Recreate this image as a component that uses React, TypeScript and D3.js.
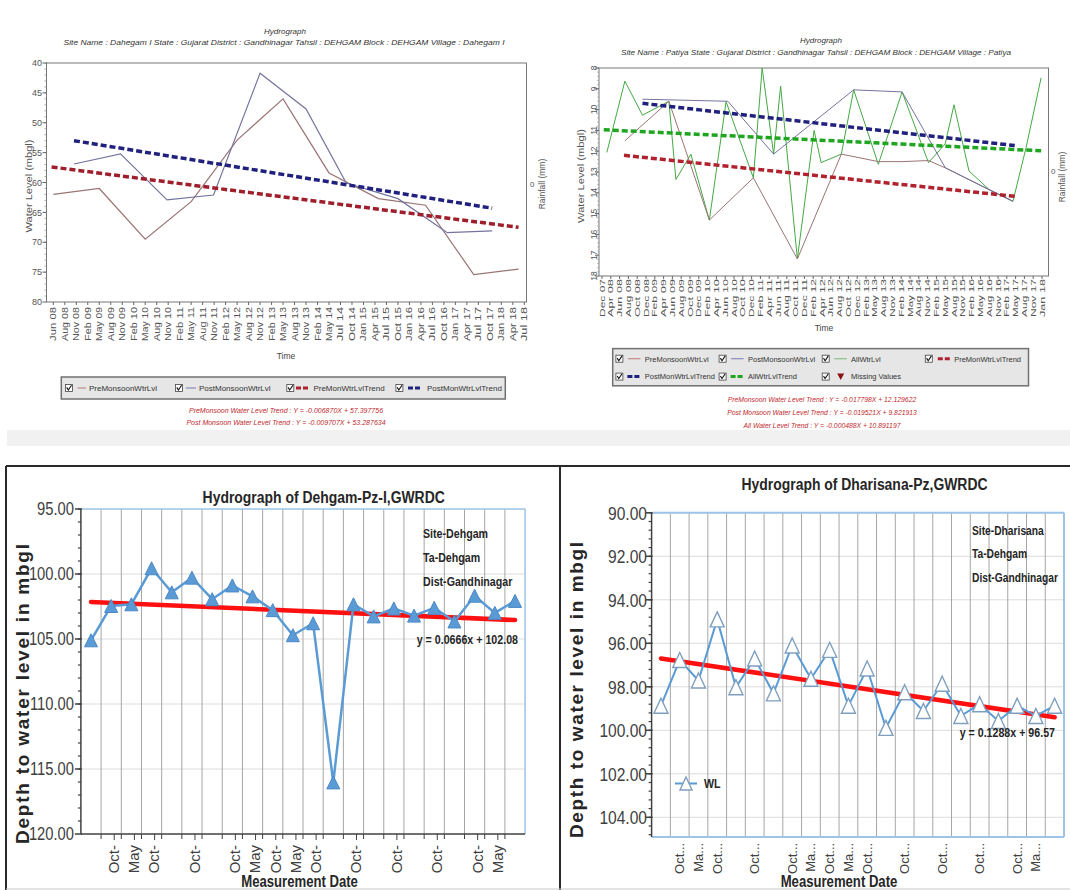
import React from "react";
import * as d3 from "d3";

const SANS = "'Liberation Sans',Arial,sans-serif";

// ===== Top-left hydrograph : Dahegam I =====
const tlTimeLabels = ["Jun 08","Aug 08","Nov 08","Feb 09","May 09","Aug 09","Nov 09","Feb 10","May 10","Aug 10","Nov 10","Feb 11","May 11","Aug 11","Nov 11","Feb 12","May 12","Aug 12","Nov 12","Feb 13","May 13","Aug 13","Nov 13","Feb 14","May 14","Jul 14","Oct 14","Jan 15","Apr 15","Jul 15","Oct 15","Jan 16","Apr 16","Jul 16","Oct 16","Jan 17","Apr 17","Jul 17","Oct 17","Jan 18","Apr 18","Jul 18"];
const tlPreIdx = [0, 4, 8, 12, 16, 20, 24, 28.3, 32.4, 36.6, 40.5];
const tlPreLevel = [62.0, 61.0, 69.5, 63.2, 52.9, 46.0, 58.4, 62.7, 63.8, 75.4, 74.5];
const tlPostIdx = [1.8, 5.85, 9.9, 13.95, 18, 22, 25.5, 30, 34.3, 38.2];
const tlPostLevel = [56.9, 55.2, 62.9, 62.1, 41.7, 47.7, 60.1, 62.7, 68.4, 68.1];
const tlPreTrendIdx = [-0.15, 40.5];
const tlPreTrendLevel = [57.4, 67.5];
const tlPostTrendIdx = [1.8, 38.2];
const tlPostTrendLevel = [53.0, 64.3];
const tlYTicks = [40, 45, 50, 55, 60, 65, 70, 75, 80];
const tlLegend = ["PreMonsoonWtrLvl", "PostMonsoonWtrLvl", "PreMonWtrLvlTrend", "PostMonWtrLvlTrend"];
const tlTrendText = [
  "PreMonsoon Water Level Trend : Y = -0.006870X + 57.397756",
  "Post Monsoon Water Level Trend : Y = -0.009707X + 53.287634",
];

// ===== Top-right hydrograph : Patiya =====
const trTimeLabels = ["Dec 07","Apr 08","Jun 08","Aug 08","Oct 08","Dec 08","Feb 09","Apr 09","Jun 09","Aug 09","Oct 09","Dec 09","Feb 10","Apr 10","Jun 10","Aug 10","Oct 10","Dec 10","Feb 11","Apr 11","Jun 11","Aug 11","Oct 11","Dec 11","Feb 12","Apr 12","Jun 12","Aug 12","Oct 12","Dec 12","Feb 13","May 13","Aug 13","Nov 13","Feb 14","May 14","Aug 14","Nov 14","Feb 15","May 15","Aug 15","Nov 15","Feb 16","May 16","Aug 16","Nov 16","Feb 17","May 17","Aug 17","Nov 17","Jan 18"];
const trAllIdx = [0.55, 2.6, 4.6, 7.6, 8.4, 10.1, 12.2, 14.1, 17.2, 18.2, 19.5, 20.3, 22.2, 24.1, 24.9, 27.2, 28.6, 31.4, 34.1, 37.1, 39.0, 40.0, 41.7, 44.0, 46.7, 48.2, 49.9];
const trAllLevel = [12.06, 8.63, 10.27, 9.6, 13.36, 12.14, 15.31, 9.62, 13.28, 8.0, 12.14, 8.87, 17.18, 11.0, 12.55, 12.14, 9.05, 12.63, 9.15, 12.55, 11.65, 9.77, 12.95, 13.85, 14.41, 11.81, 8.47];
const trPreIdx = [2.6, 7.6, 12.2, 17.2, 22.2, 27.2, 31.4, 34.1, 37.1, 39.0, 44.0, 46.7];
const trPreLevel = [11.5, 9.6, 15.31, 13.28, 17.18, 12.14, 12.5, 12.5, 12.45, 12.8, 13.85, 14.41];
const trPostIdx = [4.6, 14.3, 19.5, 28.6, 34.1, 39.0, 44.0, 46.7];
const trPostLevel = [9.5, 9.6, 12.14, 9.05, 9.15, 12.79, 13.85, 14.41];
const trPreTrendIdx = [2.5, 46.9];
const trPreTrendLevel = [12.2, 14.17];
const trPostTrendIdx = [4.6, 46.9];
const trPostTrendLevel = [9.7, 11.73];
const trAllTrendIdx = [0.2, 49.9];
const trAllTrendLevel = [10.97, 11.98];
const trYTicks = [8, 9, 10, 11, 12, 13, 14, 15, 16, 17, 18];
const trLegendRow1 = ["PreMonsoonWtrLvl", "PostMonsoonWtrLvl", "AllWtrLvl", "PreMonWtrLvlTrend"];
const trLegendRow2 = ["PostMonWtrLvlTrend", "AllWtrLvlTrend", "Missing Values"];
const trTrendText = [
  "PreMonsoon Water Level Trend : Y = -0.017798X + 12.129622",
  "Post Monsoon Water Level Trend : Y = -0.019521X + 9.821913",
  "All Water Level Trend : Y = -0.000488X + 10.891197",
];

// ===== Bottom-left : Dehgam-Pz-I =====
const blDepth = [105.10, 102.46, 102.33, 99.56, 101.41, 100.28, 101.94, 100.88, 101.72, 102.78, 104.71, 103.79, 116.03, 102.33, 103.26, 102.65, 103.20, 102.60, 103.65, 101.67, 102.99, 102.07];
const blDateLabels = ["", "Oct-", "May", "Oct-", "", "Oct-", "", "Oct-", "May", "Oct-", "May", "Oct-", "", "Oct-", "", "Oct-", "", "Oct-", "", "Oct-", "May", ""];
const blYTicks = [95, 100, 105, 110, 115, 120];
const blSlope = 0.0666;
const blIntercept = 102.08;
const blSite = ["Site-Dehgam", "Ta-Dehgam", "Dist-Gandhinagar"];

// ===== Bottom-right : Dharisana-Pz =====
const brDepth = [98.87, 96.77, 97.71, 94.90, 98.02, 96.70, 98.30, 96.10, 97.63, 96.30, 98.87, 97.16, 99.89, 98.25, 99.11, 97.86, 99.34, 98.80, 99.57, 98.87, 99.34, 98.87];
const brDateLabels = ["", "Oct...", "Ma...", "Oct...", "", "Oct...", "", "Oct...", "Ma...", "Oct...", "Ma...", "Oct...", "", "Oct...", "", "Oct...", "", "Oct...", "", "Oct...", "Ma...", ""];
const brYTicks = [90, 92, 94, 96, 98, 100, 102, 104];
const brSlope = 0.1288;
const brIntercept = 96.57;
const brSite = ["Site-Dharisana", "Ta-Dehgam", "Dist-Gandhinagar"];

function pathOf(xs: number[], ys: number[], sx: (v: number) => number, sy: (v: number) => number) {
  const pts: [number, number][] = xs.map((v, i) => [sx(v), sy(ys[i])]);
  return d3.line()(pts) || "";
}

// condensed text (Arial-Narrow look) by horizontal scaling of Liberation Sans
function NText(props: { x: number; y: number; size: number; bold?: boolean; anchor?: string; fill?: string; dy?: string; sx?: number; children: React.ReactNode }) {
  const { x, y, size, bold, anchor, fill, dy, sx, children } = props;
  return (
    <text transform={`translate(${x},${y}) scale(${sx ?? 0.82},1)`} dy={dy} fontSize={size} fontWeight={bold ? "bold" : "normal"} fontFamily={SANS} textAnchor={anchor ?? "start"} fill={fill ?? "#262626"}>
      {children}
    </text>
  );
}

function Check({ x, y }: { x: number; y: number }) {
  return (
    <g transform={`translate(${x},${y})`}>
      <rect x={-3.5} y={-3.5} width={7} height={7} fill="#fff" stroke="#444" strokeWidth={0.8} />
      <path d="M-2.2,-0.6 L-0.6,2 L2.6,-2.8" fill="none" stroke="#111" strokeWidth={1.1} />
    </g>
  );
}

function TopLeft() {
  const X0 = 46.5, X1 = 526.5, Y0 = 63, Y1 = 302;
  const x = d3.scaleLinear().domain([0, tlTimeLabels.length - 1]).range([53.3, 524.3]);
  const y = d3.scaleLinear().domain([40, 80]).range([Y0, Y1]);
  const minor = d3.range(40, 80, 1);
  return (
    <g fontFamily={SANS}>
      <text x={285} y={34} fontSize={8} fontStyle="italic" textAnchor="middle" fill="#333">Hydrograph</text>
      <text x={284} y={45} fontSize={8} fontStyle="italic" textAnchor="middle" fill="#333" textLength={441} lengthAdjust="spacingAndGlyphs">
        Site Name : Dahegam I  State : Gujarat District : Gandhinagar  Tahsil : DEHGAM  Block : DEHGAM Village : Dahegam I
      </text>
      <rect x={X0} y={Y0} width={X1 - X0} height={Y1 - Y0} fill="#fff" stroke="#777" strokeWidth={1} />
      {minor.map((v) => (
        <line key={"m" + v} x1={X0 - 2} x2={X0} y1={y(v)} y2={y(v)} stroke="#888" strokeWidth={0.7} />
      ))}
      {tlYTicks.map((v) => (
        <g key={v}>
          <line x1={X0 - 4} x2={X0} y1={y(v)} y2={y(v)} stroke="#666" />
          <text x={42} y={y(v)} dy="0.35em" fontSize={9} textAnchor="end" fill="#555">{v}</text>
        </g>
      ))}
      {tlTimeLabels.map((lab, i) => (
        <g key={lab + i}>
          <line x1={x(i)} x2={x(i)} y1={Y1} y2={Y1 + 3} stroke="#666" />
          <text transform={`translate(${x(i)},${Y1 + 5}) rotate(-90)`} fontSize={8.5} textAnchor="end" dominantBaseline="central" fill="#555" textLength={34} lengthAdjust="spacingAndGlyphs">{lab}</text>
        </g>
      ))}
      <path d={pathOf(tlPreIdx, tlPreLevel, x, y)} fill="none" stroke="#9a7474" strokeWidth={1.2} />
      <path d={pathOf(tlPostIdx, tlPostLevel, x, y)} fill="none" stroke="#74749e" strokeWidth={1.2} />
      <path d={pathOf(tlPreTrendIdx, tlPreTrendLevel, x, y)} fill="none" stroke="#9e1f2b" strokeWidth={3.5} strokeDasharray="6 3" />
      <path d={pathOf(tlPostTrendIdx, tlPostTrendLevel, x, y)} fill="none" stroke="#20207e" strokeWidth={3.5} strokeDasharray="6 3" />
      <text transform={`translate(32,186) rotate(-90)`} fontSize={9} textAnchor="middle" fill="#555" textLength={93} lengthAdjust="spacingAndGlyphs">Water Level (mbgl)</text>
      <text x={530} y={187} fontSize={8} fill="#555">0</text>
      <text transform={`translate(545,184) rotate(-90)`} fontSize={8.5} textAnchor="middle" fill="#555">Rainfall (mm)</text>
      <text x={286} y={359} fontSize={8.5} textAnchor="middle" fill="#444">Time</text>
      <rect x={61.3} y={377} width={444} height={22} fill="#e6e6e6" stroke="#707070" strokeWidth={1.5} />
      <g>
        <Check x={68.9} y={388} />
        <line x1={77.5} x2={86} y1={388} y2={388} stroke="#c08a8a" strokeWidth={1.2} />
        <text x={89} y={391} fontSize={8} fill="#333">{tlLegend[0]}</text>
        <Check x={179} y={388} />
        <line x1={186} x2={196} y1={388} y2={388} stroke="#8a8ac0" strokeWidth={1.2} />
        <text x={199} y={391} fontSize={8} fill="#333">{tlLegend[1]}</text>
        <Check x={290.3} y={388} />
        <line x1={296} x2={310} y1={388} y2={388} stroke="#b0202c" strokeWidth={3} strokeDasharray="5 2" />
        <text x={313.4} y={391} fontSize={8} fill="#333">{tlLegend[2]}</text>
        <Check x={399.4} y={388} />
        <line x1={408} x2={422} y1={388} y2={388} stroke="#20207e" strokeWidth={3} strokeDasharray="5 2" />
        <text x={427} y={391} fontSize={8} fill="#333">{tlLegend[3]}</text>
      </g>
      {tlTrendText.map((t, i) => (
        <text key={t} x={286} y={413 + i * 12} fontSize={7} fontStyle="italic" textAnchor="middle" fill="#c0282d">{t}</text>
      ))}
    </g>
  );
}

function TopRight() {
  const X0 = 599, X1 = 1048.5, Y0 = 68, Y1 = 276;
  const x = d3.scaleLinear().domain([0, trTimeLabels.length - 1]).range([602, 1042]);
  const y = d3.scaleLinear().domain([8, 18]).range([Y0, Y1]);
  const minor = d3.range(8, 18, 0.2);
  const xs1 = [619.4, 722.6, 825.7, 928.8];
  return (
    <g fontFamily={SANS}>
      <text x={821} y={42.5} fontSize={8} fontStyle="italic" textAnchor="middle" fill="#333">Hydrograph</text>
      <text x={816} y={55} fontSize={8} fontStyle="italic" textAnchor="middle" fill="#333" textLength={390} lengthAdjust="spacingAndGlyphs">
        Site Name : Patiya  State : Gujarat District : Gandhinagar  Tahsil : DEHGAM  Block : DEHGAM Village : Patiya
      </text>
      <rect x={X0} y={Y0} width={X1 - X0} height={Y1 - Y0} fill="#fff" stroke="#777" strokeWidth={1} />
      {minor.map((v, i) => (
        <line key={"m" + i} x1={X0 - 2} x2={X0} y1={y(v)} y2={y(v)} stroke="#999" strokeWidth={0.6} />
      ))}
      {trYTicks.map((v) => (
        <g key={v}>
          <line x1={X0 - 4} x2={X0} y1={y(v)} y2={y(v)} stroke="#666" />
          <text transform={`translate(597,${y(v)}) rotate(-90)`} fontSize={8.5} textAnchor="middle" fill="#555">{v}</text>
        </g>
      ))}
      {trTimeLabels.map((lab, i) => (
        <g key={lab + i}>
          <line x1={x(i)} x2={x(i)} y1={Y1} y2={Y1 + 3} stroke="#666" />
          <text transform={`translate(${x(i)},${Y1 + 3}) rotate(-90)`} fontSize={7.5} textAnchor="end" dominantBaseline="central" fill="#555" textLength={38} lengthAdjust="spacingAndGlyphs">{lab}</text>
        </g>
      ))}
      <path d={pathOf(trAllIdx, trAllLevel, x, y)} fill="none" stroke="#45a845" strokeWidth={1} />
      <path d={pathOf(trPreIdx, trPreLevel, x, y)} fill="none" stroke="#9a7474" strokeWidth={1} />
      <path d={pathOf(trPostIdx, trPostLevel, x, y)} fill="none" stroke="#74749e" strokeWidth={1} />
      <path d={pathOf(trPreTrendIdx, trPreTrendLevel, x, y)} fill="none" stroke="#b0222e" strokeWidth={3.5} strokeDasharray="6 3" />
      <path d={pathOf(trPostTrendIdx, trPostTrendLevel, x, y)} fill="none" stroke="#20207e" strokeWidth={3.5} strokeDasharray="6 3" />
      <path d={pathOf(trAllTrendIdx, trAllTrendLevel, x, y)} fill="none" stroke="#1fa51f" strokeWidth={3.5} strokeDasharray="6 3" />
      <text transform={`translate(584,176) rotate(-90)`} fontSize={9} textAnchor="middle" fill="#555" textLength={94} lengthAdjust="spacingAndGlyphs">Water Level (mbgl)</text>
      <text x={1051} y={174} fontSize={8} fill="#555">0</text>
      <text transform={`translate(1065,177) rotate(-90)`} fontSize={8.5} textAnchor="middle" fill="#555">Rainfall (mm)</text>
      <text x={824} y={331} fontSize={8.5} textAnchor="middle" fill="#444">Time</text>
      <rect x={612.7} y={348.6} width={415.8} height={37.2} fill="#e6e6e6" stroke="#707070" strokeWidth={1.5} />
      {trLegendRow1.map((t, i) => (
        <g key={t}>
          <Check x={xs1[i]} y={358.7} />
          {i < 3 ? (
            <line x1={xs1[i] + 8.5} x2={xs1[i] + 21} y1={358.7} y2={358.7} stroke={["#c08a8a", "#8a8ac0", "#8ac08a"][i]} strokeWidth={1.2} />
          ) : (
            <line x1={xs1[i] + 9} x2={xs1[i] + 22} y1={358.7} y2={358.7} stroke="#b0202c" strokeWidth={3} strokeDasharray="5 2" />
          )}
          <text x={xs1[i] + 25.4} y={361.5} fontSize={7.5} fill="#333">{t}</text>
        </g>
      ))}
      {trLegendRow2.map((t, i) => (
        <g key={t}>
          <Check x={xs1[i]} y={376.6} />
          {i < 2 ? (
            <line x1={xs1[i] + 8} x2={xs1[i] + 21.5} y1={376.6} y2={376.6} stroke={["#20207e", "#1fa51f"][i]} strokeWidth={3} strokeDasharray="5 2" />
          ) : (
            <path d={`M${xs1[i] + 11.5},373.6 L${xs1[i] + 18.5},373.6 L${xs1[i] + 15},380 Z`} fill="#8b1010" />
          )}
          <text x={xs1[i] + 25.4} y={379.4} fontSize={7.5} fill="#333">{t}</text>
        </g>
      ))}
      {trTrendText.map((t, i) => (
        <text key={t} x={822} y={401.5 + i * 13} fontSize={6.8} fontStyle="italic" textAnchor="middle" fill="#c0282d">{t}</text>
      ))}
    </g>
  );
}

function triPath(w: number, h: number) {
  return `M0,${-h / 2} L${w / 2},${h / 2} L${-w / 2},${h / 2} Z`;
}

function BottomLeft() {
  const X0 = 80.9, X1 = 525.1, Y0 = 509, Y1 = 834;
  const y = d3.scaleLinear().domain([95, 120]).range([Y0, Y1]);
  const xb = d3.scaleBand<number>().domain(blDepth.map((_, i) => i)).range([X0, X1]);
  const bw = xb.bandwidth();
  const cx = (i: number) => (xb(i) as number) + bw / 2;
  const minor = d3.range(95, 120, 1);
  const linePts = blDepth.map((v, i) => [cx(i), y(v)] as [number, number]);
  const tr0 = blSlope * 1 + blIntercept;
  const tr1 = blSlope * blDepth.length + blIntercept;
  return (
    <g>
      <NText x={323.7} y={503} size={17} bold anchor="middle">Hydrograph of Dehgam-Pz-I,GWRDC</NText>
      {blYTicks.slice(1, -1).map((v) => (
        <line key={"g" + v} x1={X0} x2={X1} y1={y(v)} y2={y(v)} stroke="#dcdcdc" strokeWidth={1} />
      ))}
      {blDepth.map((_, i) => i > 0 && (
        <line key={"v" + i} x1={xb(i)} x2={xb(i)} y1={Y0} y2={Y1} stroke="#a6a6a6" strokeWidth={1} />
      ))}
      <line x1={X0} x2={X1} y1={Y0} y2={Y0} stroke="#9dc3e6" strokeWidth={1.5} />
      <line x1={X1} x2={X1} y1={Y0} y2={Y1} stroke="#9dc3e6" strokeWidth={1.5} />
      <line x1={X0} x2={X0} y1={Y0} y2={Y1} stroke="#404040" strokeWidth={1.5} />
      <line x1={X0} x2={X1} y1={Y1} y2={Y1} stroke="#404040" strokeWidth={1.5} />
      {minor.map((v) => (
        <line key={"mt" + v} x1={X0 - 3} x2={X0} y1={y(v)} y2={y(v)} stroke="#404040" strokeWidth={1.2} />
      ))}
      {blYTicks.map((v) => (
        <g key={"t" + v}>
          <line x1={X0 - 6} x2={X0 + 1} y1={y(v)} y2={y(v)} stroke="#404040" strokeWidth={1.5} />
          <NText x={74} y={y(v)} dy="0.36em" size={18} anchor="end" fill="#404040">{v.toFixed(2)}</NText>
        </g>
      ))}
      {blDepth.map((_, i) => i > 0 && (
        <line key={"bt" + i} x1={xb(i)} x2={xb(i)} y1={Y1} y2={Y1 + 5} stroke="#404040" strokeWidth={1} />
      ))}
      {blDateLabels.map((lab, i) => lab && (
        <g key={"xl" + i}>
          <line x1={cx(i) + bw * 0.15} x2={cx(i) + bw * 0.15} y1={Y1} y2={Y1 + 6} stroke="#404040" strokeWidth={1} />
          <text transform={`translate(${cx(i) + bw * 0.12},${Y1 + 11}) rotate(-90)`} fontSize={15} fontFamily={SANS} textAnchor="end" dominantBaseline="central" fill="#404040">{lab}</text>
        </g>
      ))}
      <line x1={cx(0)} x2={cx(blDepth.length - 1)} y1={y(tr0)} y2={y(tr1)} stroke="#ff1010" strokeWidth={4.5} strokeLinecap="round" />
      <path d={d3.line()(linePts) || ""} fill="none" stroke="#5b9bd5" strokeWidth={2.5} />
      {linePts.map((p, i) => (
        <path key={"mk" + i} d={triPath(13, 13)} transform={`translate(${p[0]},${p[1]})`} fill="#5b9bd5" stroke="#4a88c6" strokeWidth={1} />
      ))}
      {blSite.map((t, i) => (
        <NText key={t} x={423} y={538 + i * 24} size={13} bold>{t}</NText>
      ))}
      <NText x={518} y={644} size={13} bold anchor="end">y = 0.0666x + 102.08</NText>
      <text transform={`translate(29,694) rotate(-90)`} fontSize={19} fontWeight="bold" fontFamily={SANS} textAnchor="middle" fill="#262626" textLength={300} lengthAdjust="spacing">Depth to water level in mbgl</text>
      <NText x={299.6} y={887} size={16} bold anchor="middle">Measurement Date</NText>
    </g>
  );
}

function BottomRight() {
  const X0 = 651.6, X1 = 1064, Y0 = 512.8;
  const y = d3.scaleLinear().domain([90, 104]).range([Y0, 817.3]);
  const Y1 = y(104.9);
  const xb = d3.scaleBand<number>().domain(brDepth.map((_, i) => i)).range([X0, X1]);
  const bw = xb.bandwidth();
  const cx = (i: number) => (xb(i) as number) + bw / 2;
  const minor = d3.range(90, 104.9, 0.4);
  const linePts = brDepth.map((v, i) => [cx(i), y(v)] as [number, number]);
  const tr0 = brSlope * 1 + brIntercept;
  const tr1 = brSlope * brDepth.length + brIntercept;
  return (
    <g>
      <NText x={864.5} y={490} size={17} bold anchor="middle">Hydrograph of Dharisana-Pz,GWRDC</NText>
      {brYTicks.slice(1).map((v) => (
        <line key={"g" + v} x1={X0} x2={X1} y1={y(v)} y2={y(v)} stroke="#dcdcdc" strokeWidth={1} />
      ))}
      {brDepth.map((_, i) => i > 0 && (
        <line key={"v" + i} x1={xb(i)} x2={xb(i)} y1={Y0} y2={Y1} stroke="#a6a6a6" strokeWidth={1} />
      ))}
      <line x1={X0} x2={X1} y1={Y0} y2={Y0} stroke="#9dc3e6" strokeWidth={2} />
      <line x1={X1} x2={X1} y1={Y0} y2={Y1} stroke="#9dc3e6" strokeWidth={2} />
      <line x1={X0} x2={X1} y1={Y1} y2={Y1} stroke="#9dc3e6" strokeWidth={2} />
      <line x1={X0} x2={X0} y1={Y0} y2={Y1} stroke="#404040" strokeWidth={1.5} />
      {minor.map((v, i) => (
        <line key={"mt" + i} x1={X0 - 3} x2={X0} y1={y(v)} y2={y(v)} stroke="#404040" strokeWidth={1.2} />
      ))}
      {brYTicks.map((v) => (
        <g key={"t" + v}>
          <line x1={X0 - 6} x2={X0 + 1} y1={y(v)} y2={y(v)} stroke="#404040" strokeWidth={1.5} />
          <NText x={647} y={y(v)} dy="0.36em" size={19} anchor="end" fill="#404040">{v.toFixed(2)}</NText>
        </g>
      ))}
      {brDateLabels.map((lab, i) => lab && (
        <text key={"xl" + i} transform={`translate(${cx(i)},${Y1 + 6}) rotate(-90)`} fontSize={13} fontFamily={SANS} textAnchor="end" dominantBaseline="central" fill="#404040">{lab}</text>
      ))}
      <line x1={cx(0)} x2={cx(brDepth.length - 1)} y1={y(tr0)} y2={y(tr1)} stroke="#ff1010" strokeWidth={4.5} strokeLinecap="round" />
      <path d={d3.line()(linePts) || ""} fill="none" stroke="#5b9bd5" strokeWidth={2} />
      {linePts.map((p, i) => (
        <path key={"mk" + i} d={triPath(14, 15)} transform={`translate(${p[0]},${p[1]})`} fill="#fff" stroke="#7f9fbf" strokeWidth={1.4} />
      ))}
      {brSite.map((t, i) => (
        <NText key={t} x={972} y={534.5 + i * 23.7} size={12.5} bold>{t}</NText>
      ))}
      <NText x={1055} y={737} size={13} bold anchor="end">y = 0.1288x + 96.57</NText>
      <line x1={675} x2={697} y1={783.5} y2={783.5} stroke="#5b9bd5" strokeWidth={2} />
      <path d={triPath(12, 13)} transform="translate(686,783.5)" fill="#fff" stroke="#7f9fbf" strokeWidth={1.4} />
      <NText x={704} y={788} size={13} bold>WL</NText>
      <text transform={`translate(583,690) rotate(-90)`} fontSize={19} fontWeight="bold" fontFamily={SANS} textAnchor="middle" fill="#262626" textLength={296} lengthAdjust="spacing">Depth to water level in mbgl</text>
      <NText x={839} y={887} size={16} bold anchor="middle">Measurement Date</NText>
    </g>
  );
}

export default function App() {
  return (
    <div style={{ position: "absolute", left: 0, top: 0, width: 1070, height: 890, background: "#fff" }}>
      <svg width={1070} height={890} viewBox="0 0 1070 890" style={{ display: "block" }}>
        <rect x={0} y={0} width={1070} height={890} fill="#fff" />
        <rect x={7} y={430} width={1063} height={16} fill="#f1f1f1" />
        <TopLeft />
        <TopRight />
        <line x1={6} x2={1070} y1={466} y2={466} stroke="#2a2a2a" strokeWidth={2} />
        <line x1={6} x2={6} y1={466} y2={890} stroke="#2a2a2a" strokeWidth={2} />
        <line x1={560} x2={560} y1={466} y2={890} stroke="#2a2a2a" strokeWidth={2} />
        <line x1={6} x2={1070} y1={889} y2={889} stroke="#c8c8c8" strokeWidth={1} />
        <BottomLeft />
        <BottomRight />
      </svg>
    </div>
  );
}
